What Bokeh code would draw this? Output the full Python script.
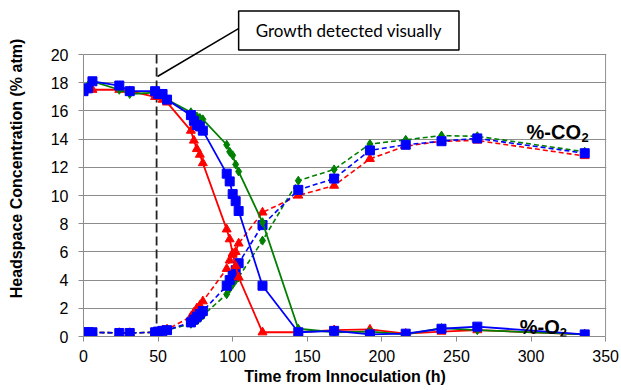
from bokeh.plotting import figure
from bokeh.models import ColumnDataSource, Label, Arrow, Range1d, FixedTicker
from bokeh.embed import file_html
from bokeh.resources import INLINE

# ---- data ----
time_h = [0, 3, 6, 24, 31, 48, 50, 53, 56, 72, 74, 76, 78, 80,
          96, 98, 100, 102, 104, 120, 144, 168, 192, 216, 240, 264, 336]

o2_red = [17.4, 17.5, 17.5, 17.5, 17.4, 17.0, 17.0, 16.8, 16.6, 14.6, 13.9, 13.3, 12.9, 12.3,
          7.6, 6.9, 5.9, 5.0, 4.2, 0.3, 0.3, 0.45, 0.5, 0.2, 0.35, 0.45, 0.15]
o2_green = [17.5, 17.8, 18.1, 17.5, 17.2, 17.3, 17.2, 17.1, 16.8, 15.9, 15.7, 15.6, 15.5, 15.4,
            13.6, 13.1, 12.85, 12.2, 11.7, 8.1, 0.55, 0.3, 0.35, 0.15, 0.6, 0.45, 0.15]
o2_blue = [17.4, 17.6, 18.1, 17.8, 17.4, 17.4, 17.2, 17.2, 16.8, 15.7, 15.3, 15.0, 14.9, 14.6,
           11.55, 11.0, 10.1, 9.6, 8.9, 3.6, 0.3, 0.4, 0.15, 0.2, 0.55, 0.7, 0.15]

co2_red = [0.3, 0.3, 0.3, 0.25, 0.25, 0.3, 0.35, 0.45, 0.5, 1.4, 1.7, 2.0, 2.2, 2.5,
           4.8, 5.4, 5.8, 6.0, 6.6, 8.8, 10.0, 10.7, 12.6, 13.5, 13.85, 13.9, 12.8]
co2_green = [0.3, 0.3, 0.3, 0.25, 0.25, 0.3, 0.35, 0.4, 0.45, 0.9, 1.0, 1.15, 1.3, 1.5,
             3.0, 3.4, 3.7, 4.0, 4.2, 6.8, 11.05, 11.85, 13.65, 13.95, 14.25, 14.2, 13.1]
co2_blue = [0.3, 0.3, 0.3, 0.25, 0.25, 0.3, 0.35, 0.4, 0.45, 1.0, 1.2, 1.4, 1.6, 1.8,
            3.6, 4.0, 4.3, 4.7, 5.2, 7.9, 10.4, 11.2, 13.2, 13.6, 13.85, 14.05, 13.0]

x_ticks = [0, 50, 100, 150, 200, 250, 300, 350]
y_ticks = [0, 2, 4, 6, 8, 10, 12, 14, 16, 18, 20]
y_max = 20
x_max = 350
growth_detected_h = 49
annotation_text = "Growth detected visually"

GRID = "#8c8c8c"
FONT = "Liberation Sans"

# frame extends above y=20 so that the annotation box (drawn in data space) is visible
p = figure(frame_width=523, frame_height=336, output_backend="svg", toolbar_location=None,
           x_range=Range1d(0, 350.6), y_range=Range1d(0, 23.83),
           min_border_left=83, min_border_right=15, min_border_top=0, min_border_bottom=54)
p.background_fill_color = "white"
p.border_fill_color = "white"
p.outline_line_color = None

p.xgrid.grid_line_color = None
p.ygrid.grid_line_color = GRID
p.ygrid.grid_line_width = 1
p.ygrid.ticker = FixedTicker(ticks=y_ticks)
p.ygrid.bounds = (0, x_max)

p.xaxis.ticker = FixedTicker(ticks=x_ticks)
p.yaxis.ticker = FixedTicker(ticks=y_ticks)
p.yaxis.bounds = (0, y_max)
p.xaxis.bounds = (0, x_max)
for ax in (p.xaxis[0], p.yaxis[0]):
    ax.axis_line_color = GRID
    ax.major_tick_line_color = GRID
    ax.major_tick_in = 0
    ax.major_tick_out = 5
    ax.minor_tick_line_color = None
    ax.major_label_text_font = FONT
    ax.major_label_text_font_size = "16px"
    ax.major_label_text_color = "black"
    ax.axis_label_text_font = FONT
    ax.axis_label_text_font_size = "16px"
    ax.axis_label_text_font_style = "bold"
    ax.axis_label_text_color = "black"

p.xaxis.axis_label = "Time from Innoculation (h)"
p.yaxis.axis_label = "Headspace Concentration (% atm)"
p.xaxis.major_label_standoff = 8
p.xaxis.axis_label_standoff = 3
p.yaxis.major_label_standoff = 10
p.yaxis.axis_label_standoff = 23

# right border of the plot area
p.segment(x0=[x_max], y0=[0], x1=[x_max], y1=[y_max], line_color=GRID, line_width=1)

# growth line
p.segment(x0=[growth_detected_h], y0=[0], x1=[growth_detected_h], y1=[y_max],
          line_color="#222222", line_width=1.8, line_dash="9 4")

series = [
    ("#FF0000", "triangle", 9, o2_red, co2_red),
    ("#008000", "diamond", 9, o2_green, co2_green),
    ("#0000FF", "square", 9, o2_blue, co2_blue),
]
for color, marker, size, o2, co2 in series:
    src_c = ColumnDataSource(dict(t=time_h, v=co2))
    p.line("t", "v", source=src_c, line_color=color, line_width=1.6, line_dash="5 3")
    p.scatter("t", "v", source=src_c, marker=marker, size=size, fill_color=color, line_color=color)
for color, marker, size, o2, co2 in series:
    src_o = ColumnDataSource(dict(t=time_h, v=o2))
    p.line("t", "v", source=src_o, line_color=color, line_width=1.8)
    p.scatter("t", "v", source=src_o, marker=marker, size=size, fill_color=color, line_color=color)

# series labels
p.add_layout(Label(x=297, y=14.5, text="%-CO", text_font=FONT, text_font_size="20px",
                   text_font_style="bold", text_color="black", text_baseline="alphabetic"))
p.add_layout(Label(x=297, y=14.5, x_offset=55, y_offset=-5, text="2", text_font=FONT,
                   text_font_size="13px", text_font_style="bold", text_color="black",
                   text_baseline="alphabetic"))
p.add_layout(Label(x=292.5, y=0.64, text="%-O", text_font=FONT, text_font_size="20px",
                   text_font_style="bold", text_color="black", text_baseline="alphabetic"))
p.add_layout(Label(x=292.5, y=0.64, x_offset=40, y_offset=-5, text="2", text_font=FONT,
                   text_font_size="13px", text_font_style="bold", text_color="black",
                   text_baseline="alphabetic"))

# annotation
p.add_layout(Arrow(end=None, x_start=49.6, y_start=18.44, x_end=104.2, y_end=21.85,
                   line_color="black", line_width=1.5))
p.add_layout(Label(x=104, y=21.7, text=annotation_text, text_font="Lato",
                   text_font_size="17px", text_color="black", text_baseline="middle",
                   background_fill_color="white", border_line_color="black",
                   border_line_width=1.5, padding=(17, 9)))

open("out.html", "w").write(file_html(p, INLINE))
